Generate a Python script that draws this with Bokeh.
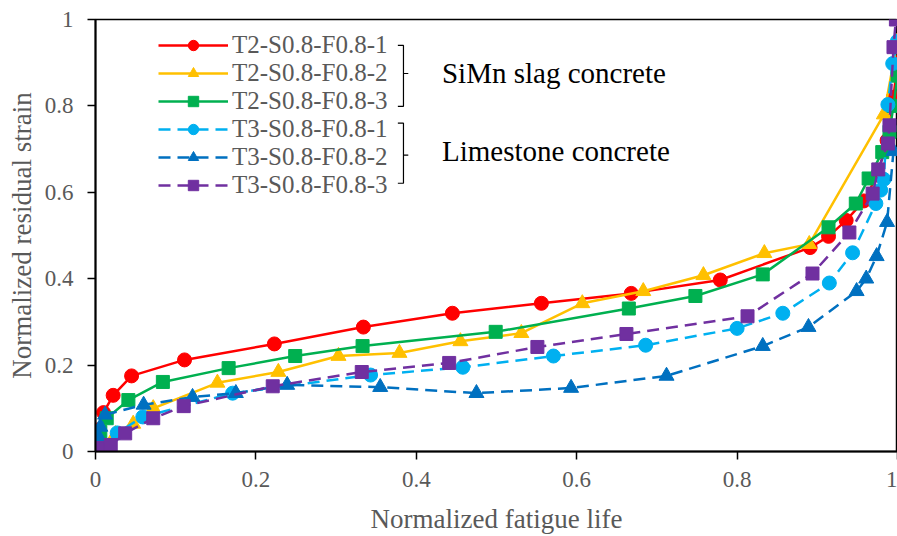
from bokeh.plotting import figure
from bokeh.models import FixedTicker, Legend, LegendItem, Label
from bokeh.embed import file_html
from bokeh.resources import INLINE

# ---------------- data ----------------
labels = ["T2-S0.8-F0.8-1", "T2-S0.8-F0.8-2", "T2-S0.8-F0.8-3",
          "T3-S0.8-F0.8-1", "T3-S0.8-F0.8-2", "T3-S0.8-F0.8-3"]

t2_1_x = [0, 0.003, 0.01, 0.022, 0.045, 0.111, 0.223, 0.334, 0.445, 0.556, 0.668, 0.779,
          0.891, 0.914, 0.936, 0.958, 0.975, 0.987, 0.995, 1.0]
t2_1_y = [0, 0.05, 0.09, 0.13, 0.175, 0.212, 0.249, 0.288, 0.32, 0.343, 0.366, 0.397,
          0.472, 0.498, 0.535, 0.58, 0.64, 0.72, 0.82, 0.9]

t2_2_x = [0, 0.01, 0.025, 0.047, 0.072, 0.152, 0.228, 0.303, 0.379, 0.455, 0.531, 0.607,
          0.683, 0.758, 0.834, 0.89, 0.983, 1.0]
t2_2_y = [0, 0.02, 0.04, 0.064, 0.1, 0.159, 0.184, 0.221, 0.228, 0.255, 0.274, 0.343,
          0.371, 0.408, 0.459, 0.48, 0.78, 0.95]

t2_3_x = [0, 0.006, 0.014, 0.041, 0.084, 0.166, 0.249, 0.333, 0.499, 0.665, 0.748, 0.832,
          0.914, 0.948, 0.964, 0.981, 0.99, 0.995, 1.0]
t2_3_y = [0, 0.045, 0.077, 0.119, 0.161, 0.193, 0.221, 0.244, 0.277, 0.331, 0.36, 0.41,
          0.519, 0.574, 0.632, 0.693, 0.74, 0.8, 0.87]

t3_1_x = [0, 0.008, 0.027, 0.059, 0.171, 0.343, 0.458, 0.571, 0.686, 0.8, 0.857, 0.915,
          0.944, 0.973, 0.979, 0.983, 0.988, 0.994, 1.0]
t3_1_y = [0, 0.005, 0.043, 0.08, 0.135, 0.177, 0.195, 0.221, 0.246, 0.285, 0.32, 0.39,
          0.46, 0.574, 0.605, 0.63, 0.803, 0.898, 0.95]

t3_2_x = [0, 0.004, 0.006, 0.012, 0.06, 0.121, 0.175, 0.239, 0.355, 0.475, 0.593, 0.712,
          0.832, 0.889, 0.949, 0.961, 0.974, 0.987, 0.995]
t3_2_y = [0, 0.034, 0.057, 0.085, 0.108, 0.126, 0.135, 0.154, 0.149, 0.135, 0.147, 0.175,
          0.244, 0.288, 0.371, 0.4, 0.452, 0.531, 0.695]

t3_3_x = [0, 0.005, 0.019, 0.037, 0.072, 0.11, 0.221, 0.332, 0.441, 0.551, 0.662, 0.813,
          0.894, 0.94, 0.969, 0.976, 0.988, 0.99, 0.995, 0.998]
t3_3_y = [0, 0.008, 0.015, 0.042, 0.077, 0.105, 0.151, 0.184, 0.205, 0.242, 0.272, 0.313,
          0.412, 0.507, 0.597, 0.653, 0.713, 0.755, 0.936, 1.0]

x_ticks = [0, 0.2, 0.4, 0.6, 0.8, 1.0]
x_tick_labels = ["0", "0.2", "0.4", "0.6", "0.8", "1"]
y_ticks = [0, 0.2, 0.4, 0.6, 0.8, 1.0]
y_tick_labels = ["0", "0.2", "0.4", "0.6", "0.8", "1"]

group_labels = ["SiMn slag concrete", "Limestone concrete"]

# ---------------- styles ----------------
colors = ["#FF0000", "#FFC000", "#00B050", "#00B0F0", "#0070C0", "#7030A0"]
markers = ["circle", "triangle", "square", "circle", "triangle", "square"]
msizes = [14, 15, 13, 14, 15, 13]
dashes = ["solid", "solid", "solid", "12 7", "12 7", "12 7"]
xs = [t2_1_x, t2_2_x, t2_3_x, t3_1_x, t3_2_x, t3_3_x]
ys = [t2_1_y, t2_2_y, t2_3_y, t3_1_y, t3_2_y, t3_3_y]

FONT = "'Liberation Serif', 'Times New Roman', serif"
GREY = "#595959"

p = figure(width=897, height=536, x_range=(0, 1), y_range=(0, 1),
           output_backend="svg", toolbar_location=None,
           min_border_left=95, min_border_right=0, min_border_top=19, min_border_bottom=84)
p.grid.visible = False
p.outline_line_color = "black"
p.outline_line_width = 1.5

for ax, ticks, tl in ((p.xaxis, x_ticks, x_tick_labels), (p.yaxis, y_ticks, y_tick_labels)):
    ax.ticker = FixedTicker(ticks=ticks)
    ax.major_label_overrides = {t: s for t, s in zip(ticks, tl)}
    ax.axis_line_color = "black"
    ax.axis_line_width = 2
    ax.major_tick_line_color = "black"
    ax.major_tick_line_width = 1.5
    ax.major_tick_out = 8
    ax.major_tick_in = 0
    ax.minor_tick_line_color = None
    ax.major_label_text_font = FONT
    ax.major_label_text_font_size = "23px"
    ax.major_label_text_color = GREY
    ax.axis_label_text_font = FONT
    ax.axis_label_text_font_size = "27px"
    ax.axis_label_text_color = GREY
    ax.axis_label_text_font_style = "normal"

p.xaxis.axis_label = "Normalized fatigue life"
p.yaxis.axis_label = "Normalized residual strain"
p.xaxis.major_label_standoff = 12
p.yaxis.major_label_standoff = 14
p.xaxis.axis_label_standoff = 14
p.yaxis.axis_label_standoff = 5

items = []
for i in range(6):
    lr = p.line(xs[i], ys[i], line_color=colors[i], line_width=2.5, line_dash=dashes[i])
    sr = p.scatter(xs[i], ys[i], marker=markers[i], size=msizes[i],
                   fill_color=colors[i], line_color=colors[i])
    items.append(LegendItem(label=labels[i], renderers=[lr, sr]))

legend = Legend(items=items, location=(63, 252), padding=0, margin=0, spacing=0,
                glyph_width=70, glyph_height=26, label_height=26, label_standoff=4,
                label_text_font=FONT, label_text_font_size="25px",
                label_text_line_height=0.85,
                label_text_color=GREY, border_line_color=None,
                background_fill_alpha=0, label_text_baseline="middle")
p.add_layout(legend)

# brackets
bx = 0.384
for top, bot, mid in ((0.94, 0.799, 0.875), (0.76, 0.621, 0.686)):
    p.line([bx - 0.007, bx, bx, bx - 0.007], [top, top, bot, bot], line_color="black", line_width=1.2)
    p.line([bx, bx + 0.006], [mid, mid], line_color="black", line_width=1.2)

for txt, yy in zip(group_labels, (0.877, 0.695)):
    p.add_layout(Label(x=0.432, y=yy, text=txt, text_font=FONT, text_font_size="29px",
                       text_color="black", text_baseline="middle"))

open("out.html", "w").write(file_html(p, INLINE))
